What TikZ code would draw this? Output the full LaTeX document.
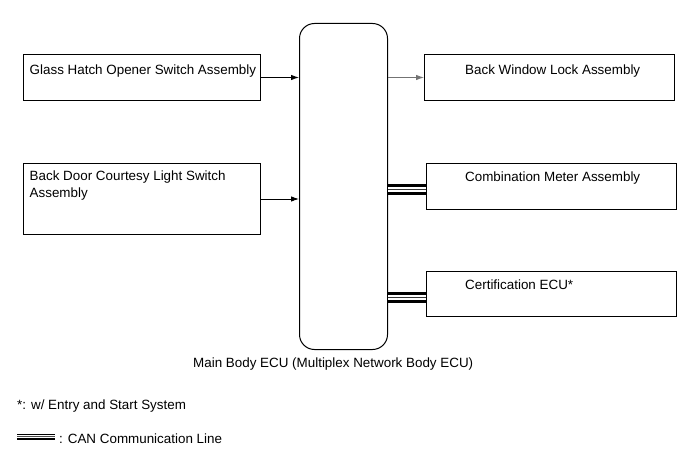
\documentclass[tikz,border=0pt]{standalone}
\usepackage{fontspec}
\setmainfont{Liberation Sans}
\usetikzlibrary{arrows.meta}
\begin{document}
\begin{tikzpicture}[x=1bp,y=-1bp,
  font=\fontsize{13.4bp}{16.7bp}\selectfont,
  box/.style={draw=black,line width=1bp,anchor=north west,inner sep=0pt},
  lbl/.style={anchor=base west,inner sep=0pt},
  arr/.style={line width=0.9bp,-{Latex[length=8bp,width=5.5bp]}},
  canline/.style={line width=10.5bp,black,
    postaction={draw,white,line width=4.8bp},
    postaction={draw,black!80,line width=0.9bp}},
  canleg/.style={line width=6bp,black,
    postaction={draw,white,line width=2.4bp},
    postaction={draw,black!70,line width=0.6bp}}]
\useasboundingbox (0,0) rectangle (690,467);

% main ECU
\node[box,rounded corners=15bp,minimum width=88bp,minimum height=326bp] (ecu) at (299,23) {};
\node[anchor=base west,inner sep=0pt] (ecut) at (193,367.5) {Main Body ECU (Multiplex Network Body ECU)};

% left boxes
\node[box,minimum width=237bp,minimum height=46bp] (glass) at (23,54) {};
\node[lbl] (glasst) at (29.5,75) {Glass Hatch Opener Switch Assembly};
\node[box,minimum width=237bp,minimum height=71bp] (door) at (23,163) {};
\node[lbl,align=left] (doort) at (29.5,197.7) {Back Door Courtesy Light Switch\\Assembly};

% right boxes
\node[box,minimum width=250bp,minimum height=46bp] (lock) at (424,54) {};
\node[lbl] (lockt) at (465,75) {Back Window Lock Assembly};
\node[box,minimum width=250bp,minimum height=46bp] (meter) at (426,163) {};
\node[lbl] (metert) at (465,182) {Combination Meter Assembly};
\node[box,minimum width=250bp,minimum height=45bp] (cert) at (426,271) {};
\node[lbl] (certt) at (465,290) {Certification ECU*};

% connectors
\draw[arr] (glass.east) -- (glass.east -| ecu.west);
\draw[arr] (door.east) -- (door.east -| ecu.west);
\draw[arr,draw=black!55] (lock.west -| ecu.east) -- (lock.west);
\coordinate (mc) at ([yshift=-3bp]meter.west);
\coordinate (cc) at ([yshift=-3.5bp]cert.west);
\draw[canline] (mc -| ecu.east) -- (mc);
\draw[canline] (cc -| ecu.east) -- (cc);

% notes
\node[lbl] (note) at (17,409) {*: w/ Entry and Start System};
\coordinate (lg1) at (17,436.5);
\coordinate (lg2) at (55,436.5);
\draw[canleg] (lg1) -- (lg2);
\node[lbl] (legt) at (59,443) {: CAN Communication Line};
\end{tikzpicture}
\end{document}
